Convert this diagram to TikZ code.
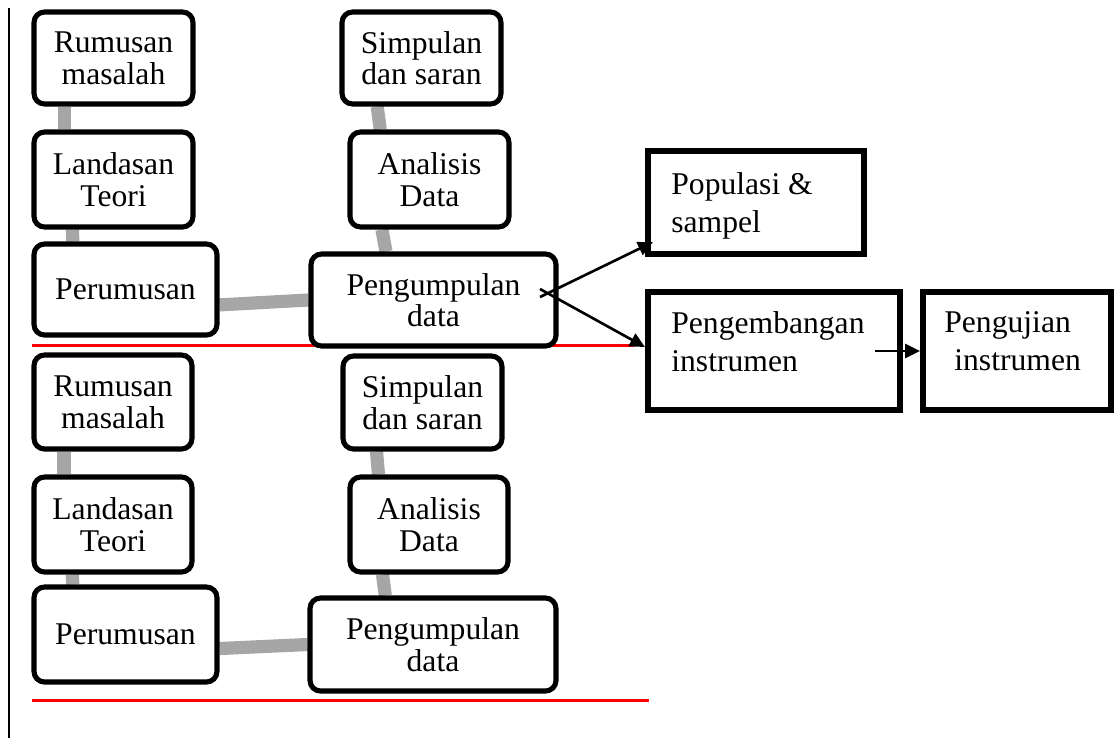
\documentclass[tikz,border=0pt]{standalone}
\usepackage{fontspec}
\setmainfont{Liberation Serif}
\usetikzlibrary{arrows.meta,calc,backgrounds}
\definecolor{linkgray}{HTML}{A6A6A6}
\newcommand{\pxu}{0.02cm}
\tikzset{
  stage/.style={draw, rounded corners=6pt, line width=2.9pt, fill=white, align=center, inner sep=0pt, font=\fontsize{18}{18}\selectfont},
  plainbox/.style={draw, line width=3.5pt, fill=white, inner sep=0pt},
  boxtext/.style={anchor=north west, align=left, inner sep=0pt, font=\fontsize{18}{21.5}\selectfont},
  link/.style={linkgray, line width=7.5pt},
  arr/.style={line width=1.5pt, -{Triangle[length=8.5pt,width=8pt]}},
  redrule/.style={red, line width=1.3pt}
}
\begin{document}
\begin{tikzpicture}[x=0.02cm, y=-0.02cm]
\useasboundingbox (0,0) rectangle (1114,738);
\draw[line width=1.5pt] (9,8) -- (9,738);
% upper set
\node[stage, minimum width=159*\pxu, minimum height=92*\pxu] (rum1) at (113.5,58) {Rumusan\\masalah};
\node[stage, minimum width=159*\pxu, minimum height=95*\pxu] (lan1) at (113.5,179.5) {Landasan\\Teori};
\node[stage, minimum width=183*\pxu, minimum height=91*\pxu] (per1) at (125.5,289.5) {Perumusan};
\node[stage, minimum width=159*\pxu, minimum height=92*\pxu] (sim1) at (421.5,58) {Simpulan\\dan saran};
\node[stage, minimum width=159*\pxu, minimum height=95*\pxu] (ana1) at (429.5,179.5) {Analisis\\Data};
\node[stage, minimum width=245*\pxu, minimum height=92*\pxu] (pum1) at (433.5,300) {Pengumpulan\\data};
% lower set
\node[stage, minimum width=158*\pxu, minimum height=94*\pxu] (rum2) at (113,402) {Rumusan\\masalah};
\node[stage, minimum width=158*\pxu, minimum height=95*\pxu] (lan2) at (113,524.5) {Landasan\\Teori};
\node[stage, minimum width=183*\pxu, minimum height=95*\pxu] (per2) at (125.5,634.5) {Perumusan};
\node[stage, minimum width=159*\pxu, minimum height=93*\pxu] (sim2) at (422.5,402.5) {Simpulan\\dan saran};
\node[stage, minimum width=158*\pxu, minimum height=95*\pxu] (ana2) at (429,524.5) {Analisis\\Data};
\node[stage, minimum width=246*\pxu, minimum height=93*\pxu] (pum2) at (433,644.5) {Pengumpulan\\data};
% instrument boxes
\node[plainbox, minimum width=216*\pxu, minimum height=103*\pxu] (pop) at (756,202.5) {};
\node[plainbox, minimum width=252*\pxu, minimum height=118*\pxu] (dev) at (774,351) {};
\node[plainbox, minimum width=188*\pxu, minimum height=118*\pxu] (uji) at (1017,351) {};
\node[boxtext] (poptxt) at (671,172) {Populasi \&\\sampel};
\node[boxtext] (devtxt) at (671,311) {Pengembangan\\instrumen};
\node[boxtext] (ujitxt) at (944,311) {Pengujian\\\hspace*{0.2cm}instrumen};
\begin{scope}[on background layer]
\draw[redrule] (32,345.5) -- (634,345.5);
\draw[redrule] (32,700.5) -- (649,700.5);
\draw[link] ($(rum1.south west)!0.2!(rum1.south east)$) -- ($(lan1.north west)!0.2!(lan1.north east)$);
\draw[link] ($(lan1.south west)!0.25!(lan1.south east)$) -- ($(per1.north west)!0.22!(per1.north east)$);
\draw[link] ($(per1.north east)!0.66!(per1.south east)$) -- (pum1.west);
\draw[link] ($(sim1.south west)!0.23!(sim1.south east)$) -- ($(ana1.north west)!0.2!(ana1.north east)$);
\draw[link] ($(ana1.south west)!0.21!(ana1.south east)$) -- ($(pum1.north west)!0.31!(pum1.north east)$);
\draw[link] ($(rum2.south west)!0.2!(rum2.south east)$) -- ($(lan2.north west)!0.2!(lan2.north east)$);
\draw[link] ($(lan2.south west)!0.25!(lan2.south east)$) -- ($(per2.north west)!0.22!(per2.north east)$);
\draw[link] ($(per2.north east)!0.64!(per2.south east)$) -- (pum2.west);
\draw[link] ($(sim2.south west)!0.22!(sim2.south east)$) -- ($(ana2.north west)!0.19!(ana2.north east)$);
\draw[link] ($(ana2.south west)!0.215!(ana2.south east)$) -- ($(pum2.north west)!0.31!(pum2.north east)$);
\end{scope}
\coordinate (forkup) at (540,297);
\coordinate (forkdown) at (540,289);
\coordinate (devout) at (875,351);
\draw[arr] (forkup) -- ($(pop.south west)+(8,-15)$);
\draw[arr] (forkdown) -- ($(dev.west)+(0,-4)$);
\draw[arr] (devout) -- (uji.west);
\end{tikzpicture}
\end{document}
